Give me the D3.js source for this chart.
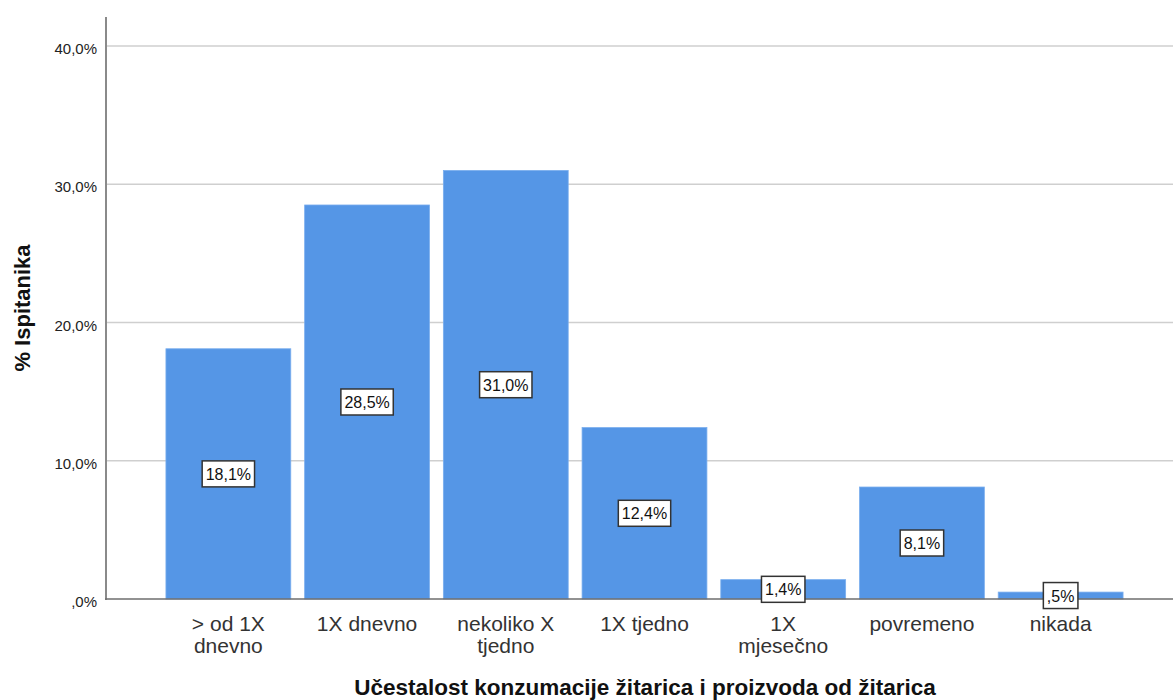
<!DOCTYPE html>
<html><head><meta charset="utf-8">
<script src="https://cdn.jsdelivr.net/npm/d3@7"></script>
<style>body{margin:0;background:#fff}svg{display:block;font-family:"Liberation Sans",Arial,sans-serif}</style>
</head><body><svg id="c" width="1173" height="700"></svg>
<script>
const categories = ["> od 1X dnevno","1X dnevno","nekoliko X tjedno","1X tjedno","1X mjesečno","povremeno","nikada"];
const categoryLines = [["> od 1X","dnevno"],["1X dnevno"],["nekoliko X","tjedno"],["1X tjedno"],["1X","mjesečno"],["povremeno"],["nikada"]];
const values = [18.1,28.5,31.0,12.4,1.4,8.1,0.5];
const valueLabels = ["18,1%","28,5%","31,0%","12,4%","1,4%","8,1%",",5%"];
const yTicks = [0,10,20,30,40];
const yTickLabels = [",0%","10,0%","20,0%","30,0%","40,0%"];
const xTitle = "Učestalost konzumacije žitarica i proizvoda od žitarica";
const yTitle = "% Ispitanika";

const svg = d3.select("#c");
const x = d3.scaleBand().domain(categories).range([159,1130]).paddingInner(0.1).paddingOuter(0.05);
const y = d3.scaleLinear().domain([0,40]).range([599,46]);

// gridlines
svg.append("g").selectAll("line").data(yTicks.filter(d=>d>0)).join("line")
  .attr("x1",107).attr("x2",1173).attr("y1",d=>y(d)).attr("y2",d=>y(d))
  .attr("stroke","#cfcfcf").attr("stroke-width",1.5);

// bars
svg.append("g").selectAll("rect").data(values).join("rect")
  .attr("x",(d,i)=>x(categories[i])).attr("width",x.bandwidth())
  .attr("y",d=>y(d)).attr("height",d=>y(0)-y(d))
  .attr("fill","#5596e6").attr("stroke","#7aaeee").attr("stroke-width",0.8);

// axes lines
svg.append("line").attr("x1",106).attr("x2",106).attr("y1",17).attr("y2",600)
  .attr("stroke","#8a8a8a").attr("stroke-width",2);
svg.append("line").attr("x1",105).attr("x2",1173).attr("y1",y(0)).attr("y2",y(0))
  .attr("stroke","#6e6e6e").attr("stroke-width",1.5);

// y tick labels
svg.append("g").selectAll("text").data(yTicks).join("text")
  .attr("x",97).attr("y",d=>y(d)+8).attr("text-anchor","end")
  .attr("font-size",15).attr("fill","#222").text((d,i)=>yTickLabels[i]);

// value labels
const lg = svg.append("g").selectAll("g").data(values).join("g")
  .attr("transform",(d,i)=>`translate(${x(categories[i])+x.bandwidth()/2},${y(d/2)})`);
lg.each(function(d,i){
  const g = d3.select(this);
  const t = g.append("text").attr("text-anchor","middle").attr("y",6)
    .attr("font-size",16).attr("fill","#111").text(valueLabels[i]);
  const w = t.node().getComputedTextLength();
  g.insert("rect","text").attr("x",-w/2-3.5).attr("y",-13).attr("width",w+7).attr("height",26)
    .attr("fill","#fff").attr("stroke","#333").attr("stroke-width",1.5);
});

// category labels
const cg = svg.append("g").selectAll("text").data(categories).join("text")
  .attr("x",d=>x(d)+x.bandwidth()/2).attr("y",631).attr("text-anchor","middle")
  .attr("font-size",21).attr("fill","#333");
cg.each(function(d,i){
  d3.select(this).selectAll("tspan").data(categoryLines[i]).join("tspan")
    .attr("x",x(d)+x.bandwidth()/2).attr("dy",(t,j)=>j===0?0:22).text(t=>t);
});

// titles
svg.append("text").attr("x",645).attr("y",695).attr("text-anchor","middle")
  .attr("font-size",22.5).attr("font-weight","bold").attr("fill","#111").text(xTitle);
svg.append("text").attr("transform","translate(30,308) rotate(-90)").attr("text-anchor","middle")
  .attr("font-size",22).attr("font-weight","bold").attr("fill","#111").text(yTitle);
</script></body></html>
